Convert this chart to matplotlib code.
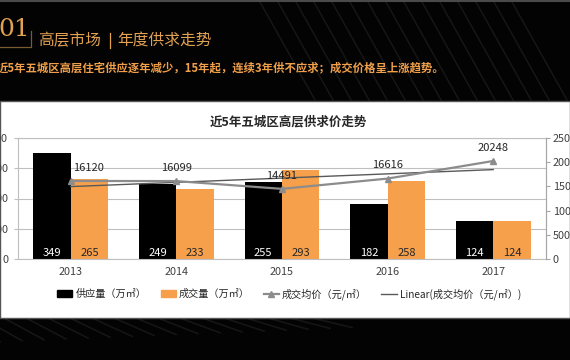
import numpy as np
import matplotlib
matplotlib.use("Agg")
import matplotlib.pyplot as plt
from matplotlib.patches import Rectangle
from matplotlib.lines import Line2D

plt.rcParams['font.family'] = ['Noto Sans CJK SC', 'DejaVu Sans']

years = ['2013', '2014', '2015', '2016', '2017']
supply = [349, 249, 255, 182, 124]
deals = [265, 233, 293, 258, 124]
price = [16120, 16099, 14491, 16616, 20248]
left_ticks = [0, 100, 200, 300, 400]
right_ticks = [0, 5000, 10000, 15000, 20000, 25000]

W, H = 570, 360
fig = plt.figure(figsize=(W / 100, H / 100), dpi=100)
fig.patch.set_facecolor('#030303')

def fx(px):
    return px / W

def fy(py):
    return 1 - py / H

# decorative stripes
for x0 in range(260, 520, 18):
    fig.add_artist(Line2D([fx(x0), fx(x0 + 55)], [fy(2), fy(100)], color='#161616',
                          lw=1.1, zorder=-6))
for x0 in range(-40, 320, 22):
    fig.add_artist(Line2D([fx(x0), fx(x0 + 40)], [fy(318), fy(340 - x0 * 0.04)],
                          color='#151515', lw=1.2, zorder=-6))
fig.add_artist(Line2D([0, 1], [fy(0.5), fy(0.5)], color='#4a4a4a', lw=1.5, zorder=-6))

# white panel
fig.add_artist(Rectangle((0, fy(318)), 1, fy(101) - fy(318), facecolor='white',
                         edgecolor='#555555', lw=1, transform=fig.transFigure, zorder=-5))

gold = '#E3A252'
orange_txt = '#F0A04A'
fig.text(fx(-2), fy(30), '01', color=gold, fontsize=18, family='DejaVu Serif',
         ha='left', va='center')
fig.add_artist(Line2D([fx(0), fx(31), fx(31)], [fy(47), fy(47), fy(31)], color='#7a5a30', lw=0.9))
fig.text(fx(38), fy(41), '高层市场', color=gold, fontsize=11.3, ha='left', va='center')
fig.add_artist(Line2D([fx(110), fx(110)], [fy(33), fy(48)], color=gold, lw=0.9))
fig.text(fx(117), fy(41), '年度供求走势', color=gold, fontsize=11.3, ha='left', va='center')
fig.text(fx(-3), fy(68), '近5年五城区高层住宅供应逐年减少，15年起，连续3年供不应求；成交价格呈上涨趋势。',
         color=orange_txt, fontsize=8.2, fontweight='bold', ha='left', va='center')

# chart
ax = fig.add_axes([fx(18), fy(259), fx(546) - fx(18), fy(138) - fy(259)])
ax.set_facecolor('none')
x = np.arange(len(years))
bw = 0.355
ax.bar(x - bw / 2, supply, bw, color='#000000', zorder=2, label='供应量（万㎡）')
ax.bar(x + bw / 2, deals, bw, color='#F6A04C', zorder=2, label='成交量（万㎡）')
for xi, v in zip(x - bw / 2, supply):
    ax.annotate(str(v), (xi, 0), xytext=(0, 4.5), textcoords='offset points',
                ha='center', va='center', color='white', fontsize=8)
for xi, v in zip(x + bw / 2, deals):
    ax.annotate(str(v), (xi, 0), xytext=(0, 4.5), textcoords='offset points',
                ha='center', va='center', color='#262626', fontsize=8)
ax.set_ylim(0, 400)
ax.set_xlim(-0.5, len(years) - 0.5)
ax.set_yticks(left_ticks)
ax.set_yticklabels([str(t) for t in left_ticks])
ax.set_xticks(x)
ax.set_xticklabels(years)
ax.tick_params(axis='x', length=0, pad=6, labelsize=7.8, colors='#404040')
ax.tick_params(axis='y', length=3, pad=4, labelsize=7.8, colors='#404040', color='#BFBFBF')
ax.yaxis.grid(True, color='#BFBFBF', lw=0.8, zorder=0)
ax.set_axisbelow(True)
for s in ax.spines.values():
    s.set_color('#BFBFBF')
    s.set_linewidth(0.8)

ax2 = ax.twinx()
ax2.set_ylim(0, 25000)
ax2.set_yticks(right_ticks)
ax2.set_yticklabels([str(t) for t in right_ticks])
ax2.tick_params(axis='y', length=3, pad=2, labelsize=7.8, colors='#404040', color='#A6A6A6')
for s in ax2.spines.values():
    s.set_visible(False)
ax2.spines['right'].set_visible(True)
ax2.spines['right'].set_color('#A6A6A6')
ax2.spines['right'].set_linewidth(0.8)

coef = np.polyfit(x, price, 1)
trend = np.polyval(coef, x)
ax2.plot(x, trend, color='#595959', lw=1.0, zorder=3)
ax2.plot(x, price, color='#8C8C8C', lw=1.6, marker='^', markersize=5, zorder=4)
label_dx = [13, 0, 0, 0, 0]
for xi, v, dx in zip(x, price, label_dx):
    ax2.annotate(str(v), (xi, v), xytext=(dx, 9.5), textcoords='offset points',
                 ha='center', va='center', color='#262626', fontsize=8)

fig.text(fx(288), fy(122), '近5年五城区高层供求价走势', fontsize=9, fontweight='bold',
         color='#262626', ha='center', va='center')

handles = [
    Rectangle((0, 0), 1, 1, color='#000000'),
    Rectangle((0, 0), 1, 1, color='#F6A04C'),
    Line2D([], [], color='#8C8C8C', lw=1.6, marker='^', markersize=5),
    Line2D([], [], color='#595959', lw=1.0),
]
labels = ['供应量（万㎡）', '成交量（万㎡）', '成交均价（元/㎡）', 'Linear(成交均价（元/㎡）)']
fig.legend(handles, labels, loc='center', bbox_to_anchor=(fx(289), fy(294)), ncol=4,
           frameon=False, fontsize=7.3, handlelength=1.5, handleheight=0.6,
           handletextpad=0.3, columnspacing=1.4, labelcolor='#262626')

fig.savefig('out.png', dpi=100, facecolor=fig.get_facecolor())
